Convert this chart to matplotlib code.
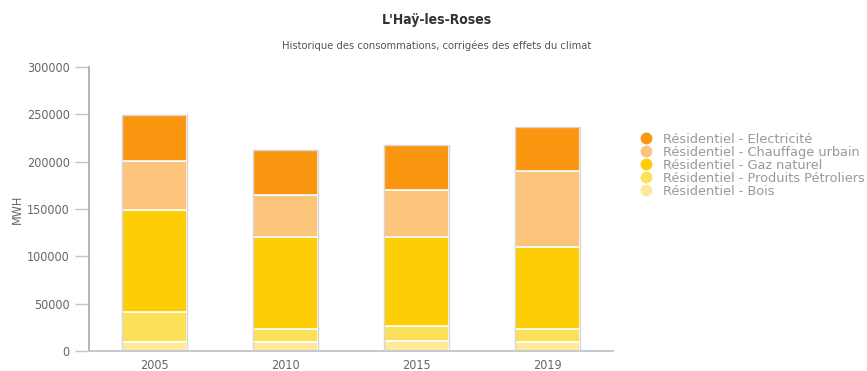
import numpy as np
import matplotlib
matplotlib.use("Agg")
import matplotlib.pyplot as plt
from matplotlib.lines import Line2D

years = ["2005", "2010", "2015", "2019"]
series = ["Résidentiel - Bois", "Résidentiel - Produits Pétroliers",
          "Résidentiel - Gaz naturel", "Résidentiel - Chauffage urbain",
          "Résidentiel - Electricité"]
bois = [9200, 9200, 10600, 10000]
produits = [31800, 14100, 16300, 13300]
gaz = [107900, 97400, 93800, 86800]
chauffage = [51600, 44400, 49400, 79800]
electricite = [48700, 47400, 47300, 46900]
colors = ["#fee89a", "#fde05a", "#fdcd05", "#fdc47b", "#fb9611"]

values = [bois, produits, gaz, chauffage, electricite]

fig = plt.figure(figsize=(8.67, 3.71), dpi=100)
ax = fig.add_axes([89 / 867, 20 / 371, 524 / 867, 284 / 371])

x = np.arange(len(years))
bottom = np.zeros(len(years))
for vals, col in zip(values, colors):
    ax.bar(x, vals, width=0.49, bottom=bottom, color=col,
           edgecolor="white", linewidth=1.2, zorder=2)
    bottom += np.array(vals)
# light grey outline round each stacked column
ax.bar(x, bottom, width=0.49, fill=False, edgecolor="#d6d6d6",
       linewidth=1.0, zorder=3)

ax.set_xlim(-0.5, len(years) - 0.5)
ax.set_ylim(0, 300000)
ax.set_yticks(np.arange(0, 300001, 50000))
ax.set_yticklabels([str(v) for v in range(0, 300001, 50000)])
ax.set_xticks(x)
ax.set_xticklabels(years)

for s in ["top", "right"]:
    ax.spines[s].set_visible(False)
ax.spines["left"].set_color("#adb0b8")
ax.spines["bottom"].set_color("#c0c4cc")
ax.spines["left"].set_linewidth(1.3)
ax.spines["bottom"].set_linewidth(1.3)
ax.tick_params(axis="y", length=10, width=1, color="#c0c4cc",
               labelcolor="#666666", labelsize=9, pad=4)
ax.tick_params(axis="x", length=0, labelcolor="#666666", labelsize=9, pad=6)
for lab in ax.get_xticklabels() + ax.get_yticklabels():
    lab.set_fontstretch("condensed")
ax.set_ylabel("MWH", color="#666666", fontsize=9, labelpad=2,
              fontstretch="condensed")

fig.text(437 / 867, 1 - 20 / 371, "L'Haÿ-les-Roses", ha="center", va="center",
         fontsize=10, fontweight="bold", color="#333333", fontstretch="condensed")
fig.text(437 / 867, 1 - 46 / 371,
         "Historique des consommations, corrigées des effets du climat",
         ha="center", va="center", fontsize=8, color="#555555",
         fontstretch="condensed")

handles = [Line2D([], [], marker="o", linestyle="", markersize=7.5,
                  markerfacecolor=c, markeredgecolor=c)
           for c in colors[::-1]]
leg = fig.legend(handles, series[::-1], loc="upper left",
                 bbox_to_anchor=(638 / 867, 1 - 133 / 371), frameon=False,
                 fontsize=9.3, labelspacing=0.0, handletextpad=0.6,
                 handlelength=1.3, borderpad=0, borderaxespad=0)
for t in leg.get_texts():
    t.set_color("#999999")

fig.savefig("out.png", dpi=100)
